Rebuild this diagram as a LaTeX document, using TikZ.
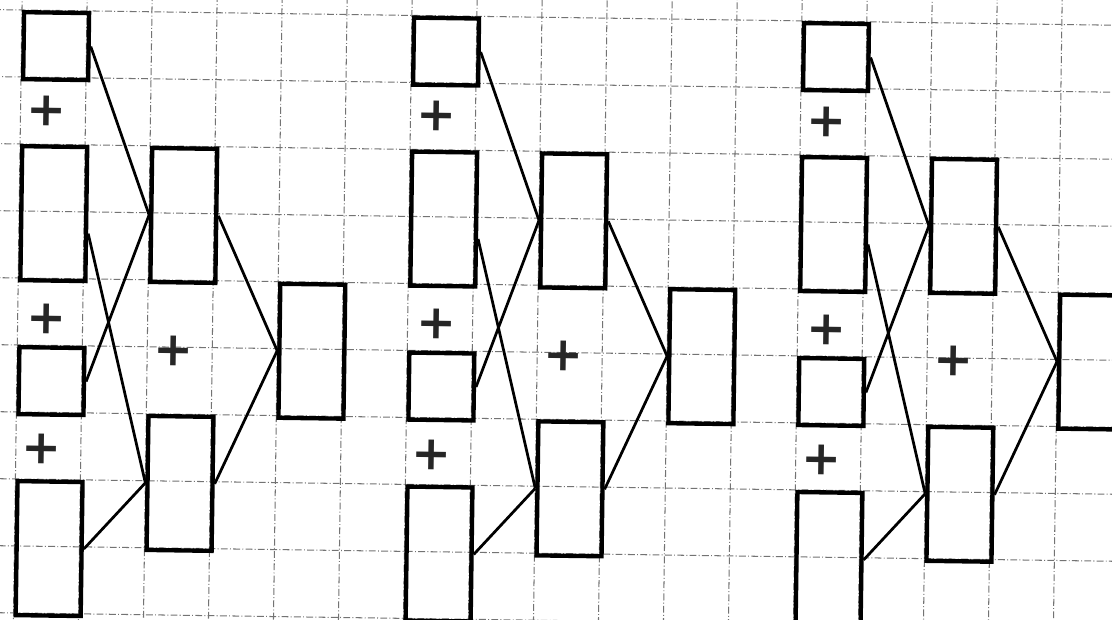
\documentclass[tikz,border=0pt]{standalone}
\usepackage{fontspec}
\newfontfamily\plusfont{DejaVu Sans}

\begin{document}
\begin{tikzpicture}[
		x=1cm, y=-1.0308cm,
		paper/.style={draw=black!55, densely dashdotted, line width=0.45pt},
		box/.style={rectangle, draw=black, line width=1.9pt, minimum width=1cm, inner sep=0pt, anchor=north west},
		sbox/.style={box, minimum height=1.0308cm},
		tbox/.style={box, minimum height=2.0616cm},
		wire/.style={draw=black, line width=1.2pt},
		plus/.style={font=\plusfont\bfseries\huge, text=black!85, inner sep=0pt}
		]
		% Sheet
		\useasboundingbox (-0.338,-0.149) rectangle (16.77,9.09);
		\clip (-0.338,-0.149) rectangle (16.77,9.09);
		\fill[white] (-0.338,-0.149) rectangle (16.77,9.09);
		
		\begin{scope}[rotate=-0.8, transform shape]
		% Grid paper
		\foreach \c in {-1,...,18} \draw[paper] (\c,-1) -- (\c,10);
		\foreach \r in {-1,...,10} \draw[paper] (-1,\r) -- (18,\r);
		
		% Three copies of the sum tree
		\foreach \g/\o in {1/0, 2/6, 3/12} {
			% Inputs
			\node[sbox] (x1-\g) at (\o,0) {};
			\node[tbox] (x2-\g) at (\o,2) {};
			\node[sbox] (x3-\g) at (\o,5) {};
			\node[tbox] (x4-\g) at (\o,7) {};
			\node[plus] (p1-\g) at (\o+0.4,1.5) {+};
			\node[plus] (p2-\g) at (\o+0.45,4.6) {+};
			\node[plus] (p3-\g) at (\o+0.4,6.55) {+};
			
			% Partial sums
			\node[tbox] (s1-\g) at (\o+2,2) {};
			\node[tbox] (s2-\g) at (\o+2,6) {};
			\node[plus] (p4-\g) at (\o+2.4,5.05) {+};
			
			% Result
			\node[tbox] (r-\g) at (\o+4,4) {};
			
			% Connect them
			\draw[wire] (x1-\g.east) -- (s1-\g.west);
			\draw[wire] (x3-\g.east) -- (s1-\g.west);
			\draw[wire] ([yshift=-0.3cm]x2-\g.east) -- (s2-\g.west);
			\draw[wire] (x4-\g.east) -- (s2-\g.west);
			\draw[wire] (s1-\g.east) -- (r-\g.west);
			\draw[wire] (s2-\g.east) -- (r-\g.west);
		}
		\end{scope}
	\end{tikzpicture}
\end{document}
